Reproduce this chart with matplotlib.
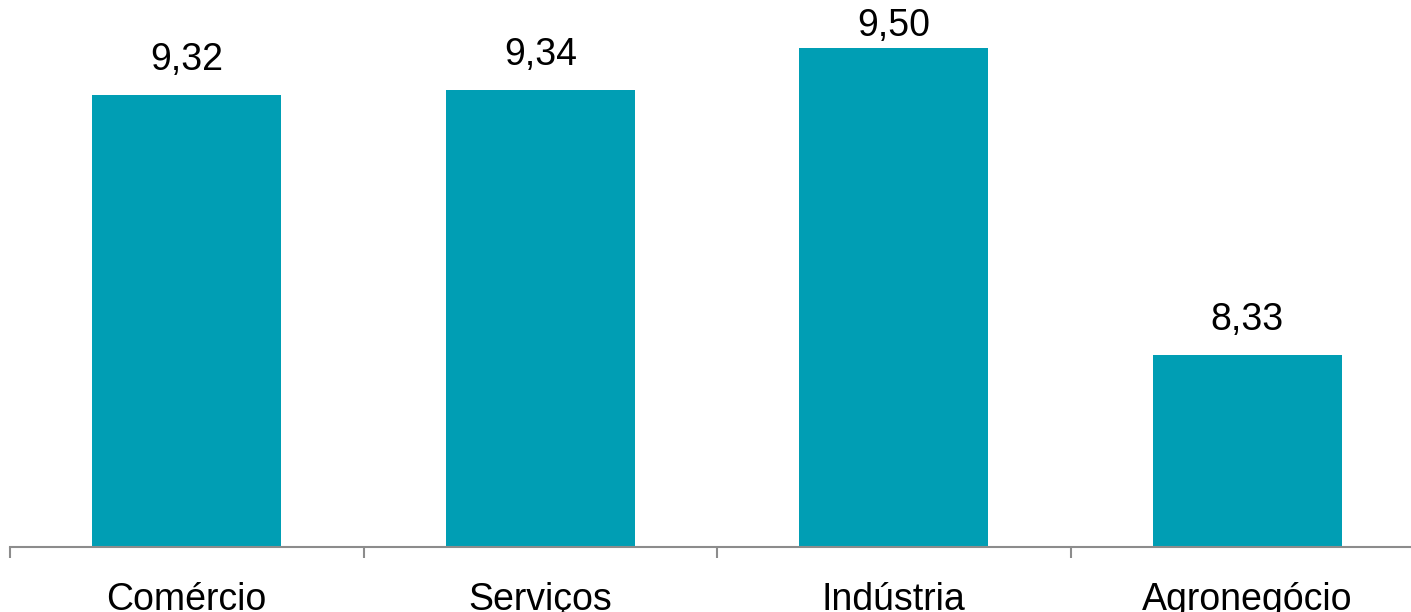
import matplotlib
matplotlib.use("Agg")
import matplotlib.pyplot as plt

categories = ["Comércio", "Serviços", "Indústria", "Agronegócio"]
values = [9.32, 9.34, 9.50, 8.33]
value_labels = ["9,32", "9,34", "9,50", "8,33"]

plt.rcParams['font.family'] = ['Liberation Sans', 'DejaVu Sans']

W, H = 1411, 612
DPI = 100
fig = plt.figure(figsize=(W / DPI, H / DPI), dpi=DPI)
ax = fig.add_axes([10 / W, 65 / H, (W - 10) / W, 547 / H])

x = list(range(len(categories)))
ax.bar(x, values, width=0.535, color="#009EB4", zorder=2)

for s in ["top", "right", "left"]:
    ax.spines[s].set_visible(False)
ax.spines["bottom"].set_color("#8C8C8C")
ax.spines["bottom"].set_linewidth(1.5)

ax.set_yticks([])
ax.set_xticks(x)
ax.set_xticklabels(categories, fontsize=27)
ax.tick_params(axis="x", which="major", length=0, pad=25)
ax.set_xticks([-0.5, 0.5, 1.5, 2.5, 3.5], minor=True)
ax.tick_params(axis="x", which="minor", length=8, width=1.5, color="#8C8C8C", direction="out")

ax.set_ylim(7.6, 9.683)
ax.set_xlim(-0.5, -0.5 + (W - 10) / 353.5)

base_off = 12.3
texts = []
for xi, v, lab in zip(x, values, value_labels):
    t = ax.annotate(lab, (xi, v), xytext=(0, base_off), textcoords="offset points",
                    ha="center", va="bottom", fontsize=27, color="black")
    texts.append(t)

# keep labels inside the figure (as in the reference, the tallest label is pushed down)
fig.canvas.draw()
renderer = fig.canvas.get_renderer()
limit = H - 8
for t in texts:
    bb = t.get_window_extent(renderer)
    if bb.y1 > limit:
        shift_pt = (bb.y1 - limit) * 72 / DPI
        t.xyann = (0, base_off - shift_pt)

fig.savefig("out.png", dpi=DPI)
